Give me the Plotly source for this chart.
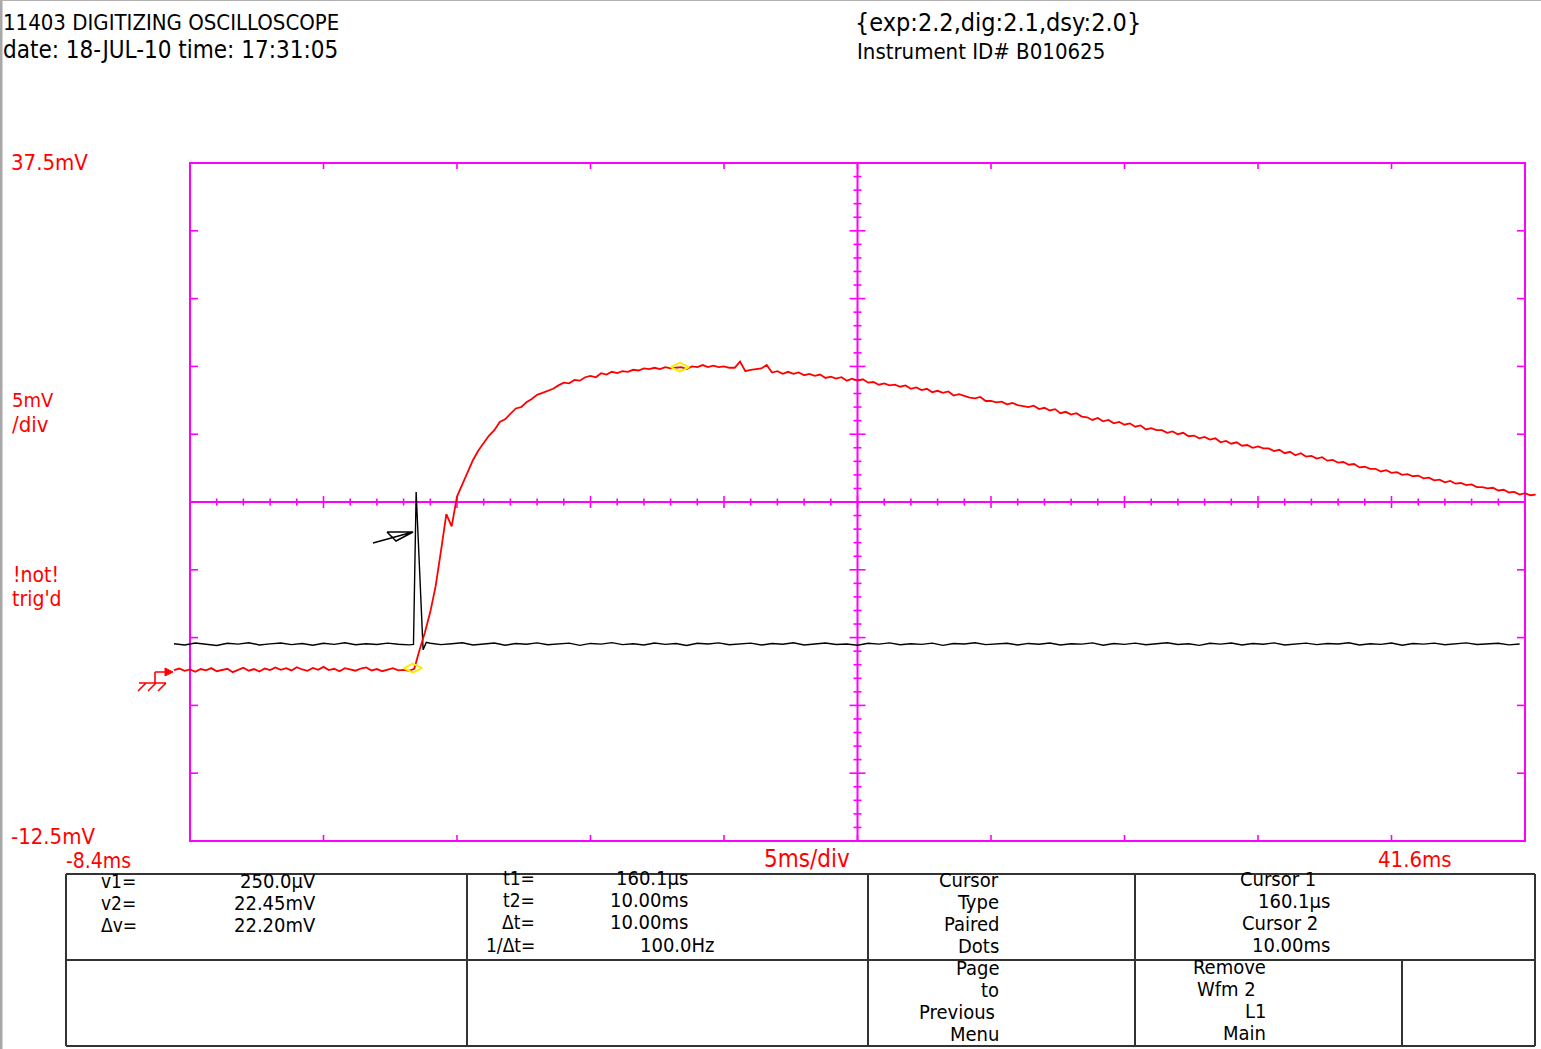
import plotly.graph_objects as go

# ------------------------------------------------------------------ data
# Channel (red) : sampled every 0.2 ms starting at -9.0 ms, values in mV
RED_T0_MS = -9.0
RED_DT_MS = 0.2
red_mv = [
    0.10, 0.22, 0.05, 0.15, -0.02, 0.18, 0.08, 0.25, 0.02, 0.12,
    0.20, -0.05, 0.14, 0.28, 0.06, 0.18, 0.00, 0.22, 0.10, 0.30,
    0.12, 0.24, 0.08, 0.32, 0.15, 0.05, 0.26, 0.12, 0.34, 0.10,
    0.20, 0.02, 0.25, 0.14, 0.06, 0.22, 0.30, 0.08, 0.18, 0.02,
    0.15, 0.24, 0.08, 0.12, 0.05,
    0.20, 1.6, 2.9, 4.4, 6.3, 8.9, 11.6, 10.7, 12.9, 13.8,
    14.7, 15.6, 16.3, 16.9, 17.4, 17.8, 18.4, 18.6, 19.0, 19.4,
    19.5, 19.85, 20.1, 20.4, 20.55, 20.7, 20.85, 21.1, 21.3, 21.25,
    21.5, 21.45, 21.7, 21.8, 21.7, 22.0, 21.9, 22.1, 22.0, 22.15,
    22.1, 22.25, 22.2, 22.35, 22.3, 22.4, 22.3, 22.45, 22.35, 22.4,
    22.45, 22.3, 22.5, 22.45, 22.6, 22.45, 22.55, 22.45, 22.5, 22.4,
    22.4, 22.85, 22.15, 22.25, 22.3, 22.35, 22.6, 22.05, 22.15, 21.95,
    22.1, 21.95, 22.05, 21.85, 21.95, 21.8, 21.9, 21.65, 21.75, 21.6,
    21.7, 21.45, 21.6, 21.45, 21.55, 21.3, 21.35, 21.15, 21.25, 21.1,
    21.15, 21.0, 21.1, 20.85, 20.95, 20.75, 20.85, 20.6, 20.7, 20.55,
    20.65, 20.35, 20.45, 20.3, 20.2, 20.15, 20.25, 19.95, 19.95, 19.85,
    19.9, 19.7, 19.8, 19.65, 19.55, 19.5, 19.6, 19.35, 19.45, 19.25,
    19.35, 19.05, 19.15, 18.95, 19.05, 18.8, 18.75, 18.55, 18.7, 18.45,
    18.55, 18.3, 18.4, 18.2, 18.3, 18.05, 18.15, 17.85, 17.95, 17.8,
    17.8, 17.6, 17.7, 17.5, 17.6, 17.35, 17.4, 17.2, 17.3, 17.1,
    17.2, 16.9, 17.0, 16.8, 16.9, 16.65, 16.7, 16.5, 16.6, 16.45,
    16.45, 16.25, 16.35, 16.1, 16.2, 15.95, 16.1, 15.85, 15.9, 15.7,
    15.8, 15.55, 15.6, 15.4, 15.45, 15.25, 15.3, 15.05, 15.1, 14.95,
    14.95, 14.75, 14.85, 14.65, 14.7, 14.5, 14.55, 14.4, 14.45, 14.25,
    14.3, 14.1, 14.15, 13.95, 14.05, 13.85, 13.9, 13.75, 13.8, 13.6,
    13.6, 13.5, 13.55, 13.35, 13.4, 13.2, 13.25, 13.05, 13.15, 13.0,
    13.05,
]

# Reference (black) : baseline before the trigger spike, the spike, baseline after
BLACK_PRE_T0_MS = -9.0
BLACK_POST_T0_MS = 0.6
BLACK_DT_MS = 0.4
black_pre_mv = [
    2.05, 1.95, 2.10, 2.00, 1.92, 2.08, 2.02, 2.12, 1.96, 2.04,
    2.10, 1.98, 2.06, 1.94, 2.08, 2.00, 2.12, 1.97, 2.05, 1.99,
    2.09, 2.01, 1.96,
]
black_spike_t_ms = [-0.03, 0.07, 0.33, 0.45]
black_spike_mv = [2.00, 13.24, 1.60, 2.15]
black_post_mv = [
    2.08, 1.98, 2.05, 2.12, 1.96, 2.03, 2.10, 1.94, 2.06, 2.01,
    2.11, 1.97, 2.04, 2.09, 1.93, 2.07, 2.02, 2.13, 1.98, 2.05,
    1.95, 2.10, 2.00, 2.06, 1.92, 2.08, 2.03, 2.11, 1.97, 2.04,
    2.09, 1.95, 2.06, 2.01, 2.12, 1.96, 2.05, 2.10, 1.99, 2.03,
    1.94, 2.08, 2.02, 2.11, 1.97, 2.05, 2.00, 2.09, 1.93, 2.06,
    2.03, 2.12, 1.98, 2.04, 2.08, 1.95, 2.07, 2.01, 2.10, 1.96,
    2.05, 2.02, 2.11, 1.94, 2.06, 2.00, 2.09, 1.97, 2.04, 2.12,
    1.99, 2.05, 1.93, 2.08, 2.02, 2.10, 1.96, 2.06, 2.01, 2.11,
    1.95, 2.04, 2.09, 1.98, 2.07, 2.03, 2.12, 1.96, 2.05, 2.00,
    2.10, 1.94, 2.06, 2.02, 2.09, 1.97, 2.04, 2.11, 1.99, 2.05,
    2.08, 1.96, 2.03,
]

# Paired cursors (dots)
cursor_t_ms = [-0.05, 9.95]
cursor_mv = [0.25, 22.45]

# Graticule
X_LEFT_MS, MS_PER_DIV, N_XDIV = -8.4, 5.0, 10
Y_BOTTOM_MV, MV_PER_DIV, N_YDIV = -12.5, 5.0, 10
N_MINOR = 5

# Texts
header_left = ["11403 DIGITIZING OSCILLOSCOPE", "date: 18-JUL-10 time: 17:31:05"]
header_right = ["{exp:2.2,dig:2.1,dsy:2.0}", "Instrument ID# B010625"]
cursor_labels_v = ["v1=", "v2=", "\u0394v="]
cursor_values_v = ["250.0\u00b5V", "22.45mV", "22.20mV"]
cursor_labels_t = ["t1=", "t2=", "\u0394t=", "1/\u0394t="]
cursor_values_t = ["160.1\u00b5s", "10.00ms", "10.00ms", "100.0Hz"]
menu_col3 = ["Cursor", "Type", "Paired", "Dots", "Page", "to", "Previous", "Menu"]
menu_col4_top = ["Cursor 1", "160.1\u00b5s", "Cursor 2", "10.00ms"]
menu_col4_bot = ["Remove", "Wfm 2", "L1", "Main"]

# ------------------------------------------------------------------ geometry
W, H = 1541, 1049
FL, FR, FT, FB = 190, 1525, 163, 841          # graticule frame in pixels
X_RIGHT_MS = X_LEFT_MS + MS_PER_DIV * N_XDIV
Y_TOP_MV = Y_BOTTOM_MV + MV_PER_DIV * N_YDIV
ms_per_px = (X_RIGHT_MS - X_LEFT_MS) / (FR - FL)
mv_per_px = (Y_TOP_MV - Y_BOTTOM_MV) / (FB - FT)
xr = [X_LEFT_MS - FL * ms_per_px, X_RIGHT_MS + (W - FR) * ms_per_px]
yr = [Y_BOTTOM_MV - (H - FB) * mv_per_px, Y_TOP_MV + FT * mv_per_px]


def dx(px):
    return xr[0] + px * ms_per_px


def dy(py):
    return yr[1] - py * mv_per_px


MAG = "#ff00ff"
RED = "#ff0000"
FONT = "DejaVu Sans Condensed, Liberation Sans Narrow, Liberation Sans, sans-serif"
FS = 23

red_t = [RED_T0_MS + RED_DT_MS * i for i in range(len(red_mv))]
black_t = ([BLACK_PRE_T0_MS + BLACK_DT_MS * i for i in range(len(black_pre_mv))]
           + black_spike_t_ms
           + [BLACK_POST_T0_MS + BLACK_DT_MS * i for i in range(len(black_post_mv))])
black_v = black_pre_mv + black_spike_mv + black_post_mv

fig = go.Figure()
fig.add_trace(go.Scatter(x=black_t, y=black_v, mode="lines",
                         line=dict(color="black", width=1.4), hoverinfo="skip"))
fig.add_trace(go.Scatter(x=red_t, y=red_mv, mode="lines",
                         line=dict(color=RED, width=1.8), hoverinfo="skip"))
fig.add_trace(go.Scatter(x=cursor_t_ms, y=cursor_mv, mode="markers",
                         marker=dict(symbol="diamond-wide-open", size=13,
                                     color="#f5f000", line=dict(width=2, color="#f5f000")),
                         hoverinfo="skip"))

shapes = []
# frame
shapes.append(dict(type="rect", xref="x", yref="y", x0=X_LEFT_MS, x1=X_RIGHT_MS,
                   y0=Y_BOTTOM_MV, y1=Y_TOP_MV, line=dict(color=MAG, width=2),
                   layer="below"))
xc = X_LEFT_MS + MS_PER_DIV * N_XDIV / 2
yc = Y_BOTTOM_MV + MV_PER_DIV * N_YDIV / 2
shapes.append(dict(type="line", xref="x", yref="y", x0=xc, x1=xc, y0=Y_BOTTOM_MV, y1=Y_TOP_MV,
                   line=dict(color=MAG, width=2), layer="below"))
shapes.append(dict(type="line", xref="x", yref="y", x0=X_LEFT_MS, x1=X_RIGHT_MS, y0=yc, y1=yc,
                   line=dict(color=MAG, width=2), layer="below"))


def tick(x0, x1, y0, y1, w=1.6):
    shapes.append(dict(type="line", xref="x", yref="y", x0=x0, x1=x1, y0=y0, y1=y1,
                       line=dict(color=MAG, width=w), layer="below"))


# ticks on the center cross
for k in range(1, N_XDIV * N_MINOR):
    x = X_LEFT_MS + k * MS_PER_DIV / N_MINOR
    half = 6 if k % N_MINOR == 0 else 3.5
    tick(x, x, yc - half * mv_per_px, yc + half * mv_per_px)
for k in range(1, N_YDIV * N_MINOR):
    y = Y_BOTTOM_MV + k * MV_PER_DIV / N_MINOR
    half = 8 if k % N_MINOR == 0 else 4
    tick(xc - half * ms_per_px, xc + half * ms_per_px, y, y)
# ticks on the frame edges (major divisions)
for k in range(1, N_XDIV):
    x = X_LEFT_MS + k * MS_PER_DIV
    tick(x, x, Y_BOTTOM_MV, Y_BOTTOM_MV + 6 * mv_per_px)
    tick(x, x, Y_TOP_MV, Y_TOP_MV - 6 * mv_per_px)
for k in range(1, N_YDIV):
    y = Y_BOTTOM_MV + k * MV_PER_DIV
    tick(X_LEFT_MS, X_LEFT_MS + 8 * ms_per_px, y, y)
    tick(X_RIGHT_MS, X_RIGHT_MS - 8 * ms_per_px, y, y)


def path_px(pts_list, color, width=1.5, fill=None):
    d = ""
    for pts in pts_list:
        d += "M " + " L ".join(f"{dx(a)},{dy(b)}" for a, b in pts) + " "
    s = dict(type="path", xref="x", yref="y", path=d.strip(), line=dict(color=color, width=width))
    if fill:
        s["fillcolor"] = fill
    shapes.append(s)


# black pointer arrow near the trigger spike
path_px([[(373, 543), (413, 532)], [(387, 532), (413, 532), (396, 541), (387, 532)]], "black", 1.5)
# red ground / channel reference marker
path_px([[(155, 672), (170, 672)], [(155, 672), (155, 683)], [(139, 683), (166, 683)],
         [(166, 683), (158, 691)], [(156, 683), (148, 691)], [(146, 683), (138, 691)]], RED, 1.6)
path_px([[(165, 668), (173, 672), (165, 676), (165, 668)]], RED, 1, fill=RED)

# table of the readout
def pline(x0, y0, x1, y1, color="#333333", w=2):
    shapes.append(dict(type="line", xref="paper", yref="paper",
                       x0=x0 / W, x1=x1 / W, y0=1 - y0 / H, y1=1 - y1 / H,
                       line=dict(color=color, width=w)))


T_TOP, T_MID, T_BOT = 874, 960, 1046
T_L, T_R = 66, 1535
pline(T_L, T_TOP, T_R, T_TOP)
pline(T_L, T_MID, T_R, T_MID)
pline(T_L, T_BOT, T_R, T_BOT)
for xv in (T_L, 467, 868, 1135, T_R):
    pline(xv, T_TOP, xv, T_BOT)
pline(1402, T_MID, 1402, T_BOT)
# light grey image border (left, top)
pline(1, 0, 1, H, "#a8a8a8", 3)
pline(0, 0.5, W, 0.5, "#b0b0b0", 1)

annotations = []


def txt(s, x, yc_px, anchor="left", color="black", size=FS):
    annotations.append(dict(text=s, x=x / W, y=1 - yc_px / H, xref="paper", yref="paper",
                            xanchor=anchor, yanchor="middle", showarrow=False,
                            font=dict(family=FONT, size=size, color=color)))


txt(header_left[0], 1, 22, size=22)
txt(header_left[1], 1, 50, size=24)
txt(header_right[0], 853, 23, size=25)
txt(header_right[1], 855, 51, size=22)

txt("37.5mV", 9, 162, color=RED, size=22)
txt("5mV", 10, 400, color=RED, size=20)
txt("/div", 10, 424, color=RED, size=22)
txt("!not!", 11, 575, color=RED, size=21)
txt("trig'd", 10, 599, color=RED, size=21)
txt("-12.5mV", 9, 836, color=RED, size=22)
txt("-8.4ms", 64, 861, color=RED, size=21)
txt("5ms/div", 762, 859, color=RED, size=24)
txt("41.6ms", 1376, 859, color=RED, size=22)

for s, yv in zip(cursor_labels_v, (881, 903, 925)):
    txt(s, 99, yv, size=19)
for s, yv in zip(cursor_values_v, (881, 903, 925)):
    txt(s, 318, yv, anchor="right", size=20)
for s, yv in zip(cursor_labels_t, (878, 900, 922, 945)):
    txt(s, 537, yv, anchor="right", size=19)
for s, yv, xr_ in zip(cursor_values_t, (878, 900, 922, 945), (690, 690, 690, 716)):
    txt(s, xr_, yv, anchor="right", size=20)
for s, yv in zip(menu_col3, (880, 902, 924, 946, 968, 990, 1012, 1034)):
    txt(s, 997 if s == "Previous" else 1001, yv, anchor="right", size=20)
for s, yv, xr_ in zip(menu_col4_top, (879, 901, 923, 945), (1318, 1332, 1320, 1332)):
    txt(s, xr_, yv, anchor="right", size=20)
for s, yv, xr_ in zip(menu_col4_bot, (967, 989, 1011, 1033), (1268, 1258, 1268, 1268)):
    txt(s, xr_, yv, anchor="right", size=20)

fig.update_layout(
    width=W, height=H,
    margin=dict(l=0, r=0, t=0, b=0, pad=0),
    paper_bgcolor="white", plot_bgcolor="white",
    showlegend=False,
    xaxis=dict(range=xr, visible=False, fixedrange=True),
    yaxis=dict(range=yr, visible=False, fixedrange=True),
    shapes=shapes,
    annotations=annotations,
)

fig.write_html("out.html", config={"displayModeBar": False},
               post_script="document.body.style.margin='0';document.body.style.overflow='hidden';")
